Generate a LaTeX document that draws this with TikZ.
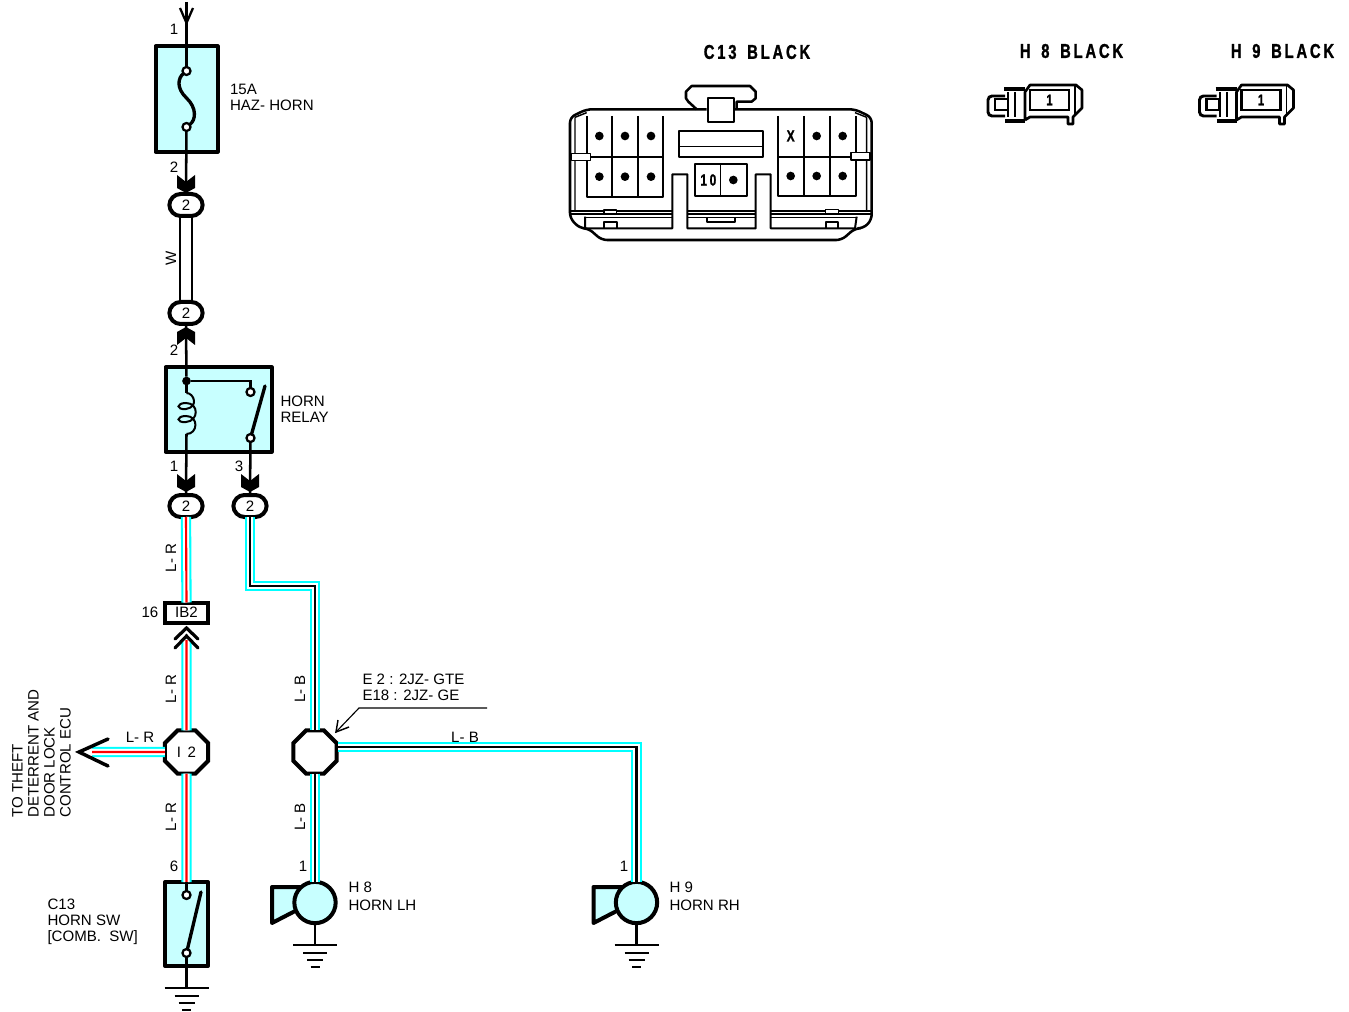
\documentclass[tikz,border=0pt]{standalone}
\usepackage{fontspec}
\setmainfont{Liberation Sans}
\newfontfamily\titlefont[FakeStretch=0.74,LetterSpace=14,FakeBold=1.2]{Liberation Sans Bold}
\usetikzlibrary{shapes.geometric}

\definecolor{partfill}{RGB}{200,255,255}
\definecolor{wirecyan}{RGB}{0,255,255}
\definecolor{wirered}{RGB}{255,0,0}

\tikzset{every picture/.style={line width=0.75pt}}
\tikzset{
	every pic/.style={yscale=-1},
	txt/.style={font=\fontsize{11.3}{12}\selectfont,inner sep=0pt,align=left},
	title/.style={font=\titlefont\fontsize{15}{15}\selectfont,inner sep=0pt},
	part/.style={draw,line width=3pt,fill=partfill,rectangle,inner sep=0pt,outer sep=0pt,line join=round},
	oval/.style={draw,line width=3pt,fill=white,rectangle,rounded corners=8.5pt,minimum width=25pt,minimum height=16.5pt,inner sep=0pt,outer sep=0pt,font=\fontsize{11.3}{12}\selectfont},
	octa/.style={draw,line width=3pt,fill=white,regular polygon,regular polygon sides=8,minimum size=35pt,inner sep=0pt,outer sep=0pt,font=\fontsize{11.3}{12}\selectfont},
	term/.style={draw,line width=1.7pt,fill=white,circle,minimum size=6pt,inner sep=0pt,outer sep=0pt},
	lead/.style={line width=1.9pt},
	blade/.style={line width=2.5pt,line cap=round},
	wirelr/.style={line width=7.7pt,draw=wirecyan,postaction={draw=white,line width=4.6pt},postaction={draw=wirered,line width=1.6pt}},
	wirelb/.style={line width=7.7pt,draw=wirecyan,postaction={draw=white,line width=4.6pt},postaction={draw=black,line width=1.6pt}},
	pin/.style={line width=0.85pt},
	pics/chevron/.style={code={
		\fill (-9,-18) -- (0,-11) -- (9,-18) -- (9,-5) -- (0,0) -- (-9,-5) -- cycle;
	}},
	pics/earth/.style={code={
		\draw[line width=1.7pt] (-22,0) -- (22,0);
		\draw[line width=1.7pt] (-12,8) -- (12,8);
		\draw[line width=1.7pt] (-8,15) -- (8,15);
		\draw[line width=1.7pt] (-4.5,22) -- (4.5,22);
	}},
	pics/trumpet/.style={code={
		\draw[part] (-15,-15.5) -- (-43,-15.5) -- (-43,20.5) -- (-15,6) -- cycle;
	}},
	pics/hshell/.style={code={
		% plug end
		\draw[line width=2.2pt,rounded corners=3pt] (1005,96) -- (988,96) -- (988,116) -- (1005,116);
		\draw[line width=1.9pt] (995,99) rectangle (1008,110);
		\draw[line width=1.5pt] (1008,92) -- (1008,117) (1015,92) -- (1015,117);
		% clips
		\draw[line width=2.6pt] (1004,89) -- (1025,89);
		\draw[line width=2.8pt] (1005,121) -- (1025,121);
		% body
		\draw[line width=2pt,line join=round] (1025,120) -- (1025,92) -- (1030,85) -- (1076,85) -- (1082,90) -- (1082,108) -- (1073,117) -- (1073,124) -- (1068,124) -- (1068,117) -- (1030,117) -- (1025,120);
		\draw[line width=1.7pt] (1030,90) rectangle (1069,110);
		\draw[pin] (1075,86) -- (1075,114);
		\node[inner sep=0pt,font=\titlefont\fontsize{11.5}{12}\selectfont] at (1049.5,100) {1};
	}},
}

\begin{document}
\begin{tikzpicture}[x=0.75pt,y=0.75pt,yscale=-1,xscale=1]
	\path[use as bounding box] (0,0) rectangle (1349,1012);

	% Parts
	\node[part,minimum width=46.5pt,minimum height=79pt] (fuse) at (186.5,99) {};
	\node[part,minimum width=79.5pt,minimum height=63.5pt] (relay) at (218.5,409.5) {};
	\node[part,minimum width=32pt,minimum height=63pt] (hornsw) at (186.5,924) {};
	\node[draw,line width=3pt,fill=white,rectangle,minimum width=32pt,minimum height=15pt,inner sep=0pt,outer sep=0pt,font=\fontsize{11.3}{12}\selectfont] (ib) at (186.5,612.5) {IB2};
	\node[oval] (ovala) at (186,205) {2};
	\node[oval] (ovalb) at (186,313) {2};
	\node[oval] (ovalc) at (186,506) {2};
	\node[oval] (ovald) at (250,506) {2};
	\node[octa] (juncir) at (186.5,752) {I \,2};
	\node[octa] (juncib) at (315,752) {};

	% Terminals
	\node[term] (fusetop) at (186.5,71) {};
	\node[term] (fusebot) at (186.5,127) {};
	\node[term] (relaycon) at (250.5,392) {};
	\node[term] (relaycom) at (250.5,438) {};
	\node[term] (swtop) at (186.5,895) {};
	\node[term] (swbot) at (186.5,953) {};
	\node[circle,fill,minimum size=6.5pt,inner sep=0pt,outer sep=0pt] (relaydot) at (186.5,381) {};
	\coordinate (topend) at (186.5,2);
	\coordinate (coiltop) at (186.5,393);
	\coordinate (coilbot) at (186.5,434);
	\coordinate (bladerelay) at (265,386);
	\coordinate (bladesw) at (201,892);
	\coordinate (tiptheft) at (92,752);
	\coordinate (ibwire) at (186.5,640);
	\coordinate (bendA) at (250,586);
	\coordinate (bendB) at (315,586);
	\coordinate (bendC) at (636.5,747);
	\coordinate (tapleft) at (338,747);

	% Horns
	\pic at (315,902.5) {trumpet};
	\pic at (636.5,902.5) {trumpet};
	\node[part,circle,minimum size=31pt] (hornl) at (315,902.5) {};
	\node[part,circle,minimum size=31pt] (hornr) at (636.5,902.5) {};

	% Grounds
	\pic at (186.5,988) {earth};
	\pic at (315,945) {earth};
	\pic at (636.5,945) {earth};
	\coordinate (gndsw) at (186.5,988);
	\coordinate (gndl) at (315,945);
	\coordinate (gndr) at (636.5,945);

	% Top lead
	\draw[lead] (topend) -- (fuse.north);
	\draw[lead] (fuse.north) -- (fusetop);
	\draw[line width=1.7pt] (180,8) -- (186.5,23) -- (193,8);
	\draw[line width=2.5pt,line cap=round] (fusetop) .. controls (178,78) and (176,88) .. (186.5,98) .. controls (197,108) and (196,120) .. (fusebot);
	\draw[lead] (fusebot) -- (ovala.north);
	\pic at (186,193) {chevron};

	% White wire
	\draw[pin] ([xshift=-4.5pt]ovala.south) -- ([xshift=-4.5pt]ovalb.north);
	\draw[pin] ([xshift=4.5pt]ovala.south) -- ([xshift=4.5pt]ovalb.north);

	% Relay
	\draw[lead] (ovalb.south) -- (relaydot);
	\pic[rotate=180] at (186,327) {chevron};
	\draw[lead] (relaydot) -| (relaycon);
	\draw[lead] (relaydot) -- (coiltop);
	\draw[line width=1.5pt] (coiltop) .. controls (194,393) and (199,407) .. (186,409) .. controls (176,410) and (176,403) .. (186,403) .. controls (199,403) and (199,421) .. (186,422) .. controls (176,423) and (176,416) .. (186,416) .. controls (199,416) and (198,434) .. (coilbot);
	\draw[lead] (coilbot) -- (ovalc.north);
	\draw[blade] (relaycom) -- (bladerelay);
	\draw[lead] (relaycom) -- (ovald.north);
	\pic at (186,492) {chevron};
	\pic at (250,492) {chevron};

	% L-R wires
	\draw[wirelr] (ovalc.south) -- (ib.north);
	\draw[wirelr] (ibwire) -- (juncir.north);
	\draw[wirelr] (juncir.west) -- (tiptheft);
	\draw[wirelr] (juncir.south) -- (hornsw.north);
	\draw[line width=2.6pt,line cap=round,line join=miter,white] (175,648) -- (186.5,635) -- (198,648);
	\draw[line width=2.4pt,line cap=round] (175,639) -- (186.5,628) -- (198,639);
	\draw[line width=2.4pt,line cap=round] (175,648) -- (186.5,636) -- (198,648);
	\draw[line width=2.6pt,line cap=round] (108,739) -- (79,752) -- (108,766);

	% L-B wires
	\draw[wirelb] (ovald.south) -- (bendA) -- (bendB) -- (juncib.north);
	\draw[wirelb] (tapleft) -- (bendC) -- (hornr.north);
	\draw[wirelb] (juncib.south) -- (hornl.north);

	% Switch
	\draw[lead] (hornsw.north) -- (swtop);
	\draw[blade] (swbot) -- (bladesw);
	\draw[lead] (swbot) -- (gndsw);
	\draw[lead] (hornl.south) -- (gndl);
	\draw[lead] (hornr.south) -- (gndr);

	% Splice leader
	\coordinate (leadend) at (487,708);
	\coordinate (leadbend) at (359,708);
	\coordinate (leadtip) at (336,732);
	\draw[pin] (leadend) -- (leadbend) -- (leadtip);
	\draw[line width=1.1pt] (338,720) -- (leadtip) -- (349,727);

	% Text Node
	\node[txt,anchor=center] (pinfa) at (174,29) {1};
	\node[txt,anchor=center] (pinfb) at (174,167) {2};
	\node[txt,anchor=center] (pinra) at (174,350) {2};
	\node[txt,anchor=center] (pinrb) at (174,466) {1};
	\node[txt,anchor=center] (pinrc) at (239,466) {3};
	\node[txt,anchor=center] (pinib) at (150,612) {16};
	\node[txt,anchor=center] (pinsw) at (174,866) {6};
	\node[txt,anchor=center] (pinhl) at (303,866) {1};
	\node[txt,anchor=center] (pinhr) at (624,866) {1};
	\node[txt,anchor=west] (lblfuse) at (229.5,97) {15A\\HAZ- HORN};
	\node[txt,anchor=west] (lblrelay) at (280,409) {HORN\\RELAY};
	\node[txt,anchor=west] (lblsw) at (47,922) {C13\\HORN SW\\{[COMB.\ \ SW]}};
	\node[txt,anchor=west] (lblhl) at (348,896) {H 8\\[1.5pt]HORN LH};
	\node[txt,anchor=west] (lblhr) at (669,896) {H 9\\[1.5pt]HORN RH};
	\node[txt,anchor=west] (lblsplice) at (362,687) {E 2 : 2JZ- GTE\\E18 : 2JZ- GE};
	\node[txt,anchor=north west,rotate=90] (lbltheft) at (11.5,818) {TO THEFT\\DETERRENT AND\\DOOR LOCK\\CONTROL ECU};
	\node[txt,rotate=90] (wirew) at (171,258) {W};
	\node[txt,rotate=90] (wirea) at (171,558) {L- R};
	\node[txt,rotate=90] (wireb) at (171,689) {L- R};
	\node[txt,rotate=90] (wirec) at (171,817) {L- R};
	\node[txt,rotate=90] (wired) at (300,689) {L- B};
	\node[txt,rotate=90] (wiree) at (300,817) {L- B};
	\node[txt] (wiref) at (140,737) {L- R};
	\node[txt] (wireg) at (465,737) {L- B};

	% Connector titles
	\node[title] (titlec) at (757,52) {C13\hspace{8pt}BLACK};
	\node[title] (titleh) at (1071.5,51) {H\hspace{8pt}8\hspace{8pt}BLACK};
	\node[title] (titlei) at (1282.5,51) {H\hspace{8pt}9\hspace{8pt}BLACK};

	% Connector C13
	\begin{scope}[shift={(550,30)},scale=1/3,line join=round]
		\draw[line width=1.9pt] (440,238) -- (415,215) -- (408,205) -- (408,185) -- (425,168) -- (600,168) -- (617,185) -- (617,205) -- (605,215) -- (560,215) -- (560,235);
		\draw[line width=1.5pt] (475,205) rectangle (553,275);
		\draw[line width=1.9pt,rounded corners=4pt] (470,238) -- (110,238) -- (60,262) -- (60,565) -- (90,595) -- (115,595) -- (155,630) -- (875,630) -- (915,595) -- (940,595) -- (965,570) -- (965,262) -- (915,238) -- (555,238);
		\draw[line width=1.1pt] (75,262) -- (75,545) (950,262) -- (950,545) (75,262) -- (110,248) (950,262) -- (915,248);
		% cavity blocks
		\draw[line width=1.5pt] (110,258) -- (110,500) -- (340,500) -- (340,258) (187,258) -- (187,500) (263,258) -- (263,500) (75,380) -- (340,380);
		\draw[line width=1.5pt] (683,258) -- (683,497) -- (917,497) -- (917,258) (762,258) -- (762,497) (840,258) -- (840,497) (683,380) -- (950,380);
		\draw[line width=1.5pt] (388,303) rectangle (638,380);
		\draw[line width=1.1pt] (388,350) -- (638,350);
		\draw[line width=1.5pt] (435,403) rectangle (590,497);
		\draw[line width=1.1pt] (512,403) -- (512,497);
		\foreach \x in {148,225,303}
			\foreach \y in {318,440} \fill (\x,\y) circle (13);
		\foreach \x in {800,878}
			\foreach \y in {318,438} \fill (\x,\y) circle (13);
		\fill (722,438) circle (13);
		\fill (550,450) circle (13);
		\node[inner sep=0pt,font=\titlefont\fontsize{12}{12}\selectfont] (cavx) at (722,318) {X};
		\node[inner sep=0pt,font=\titlefont\fontsize{12}{12}\selectfont] (cavten) at (475,450) {1\hspace{2pt}0};
		% side tabs
		\draw[line width=1.1pt,fill=white] (65,370) rectangle (122,392);
		\draw[line width=1.1pt,fill=white] (903,367) rectangle (960,390);
		% posts and lower rim
		\draw[line width=1.5pt] (60,543) -- (367,543) (412,543) -- (617,543) (662,543) -- (965,543);
		\draw[line width=0.9pt] (60,552) -- (367,552) (412,552) -- (617,552) (662,552) -- (965,552);
		\draw[line width=1.5pt] (105,560) -- (105,595) -- (367,595) -- (367,433) -- (412,433) -- (412,595) -- (617,595) -- (617,433) -- (662,433) -- (662,595) -- (915,595) -- (920,560);
		\draw[line width=1.1pt] (105,563) -- (367,563) (412,563) -- (617,563) (662,563) -- (920,563);
		\draw[line width=1.1pt,fill=white] (162,540) rectangle (200,552);
		\draw[line width=1.1pt,fill=white] (827,538) rectangle (865,550);
		\draw[line width=1.5pt] (162,595) -- (162,575) -- (200,575) -- (200,595);
		\draw[line width=1.5pt] (827,595) -- (827,575) -- (865,575) -- (865,595);
		\draw[line width=1.5pt] (472,563) -- (472,575) -- (555,575) -- (555,563);
	\end{scope}

	% Connectors H8 and H9
	\pic at (0,0) {hshell};
	\pic at (211.5,0) {hshell};

\end{tikzpicture}
\end{document}
